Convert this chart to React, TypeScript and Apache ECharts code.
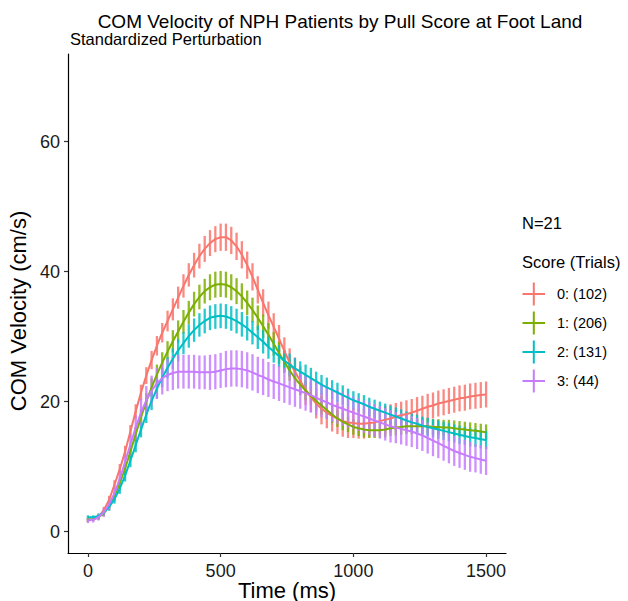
import React, { useEffect, useRef } from "react";
import * as echarts from "echarts";

const FONT = '"Liberation Sans", Arial, Helvetica, sans-serif';

const timeMs = [
  0, 20, 40, 60, 80, 100, 120, 140, 160, 180,
  200, 220, 240, 260, 280, 300, 320, 340, 360, 380,
  400, 420, 440, 460, 480, 500, 520, 540, 560, 580,
  600, 620, 640, 660, 680, 700, 720, 740, 760, 780,
  800, 820, 840, 860, 880, 900, 920, 940, 960, 980,
  1000, 1020, 1040, 1060, 1080, 1100, 1120, 1140, 1160, 1180,
  1200, 1220, 1240, 1260, 1280, 1300, 1320, 1340, 1360, 1380,
  1400, 1420, 1440, 1460, 1480, 1500,
];

const groupNames = ["0: (102)", "1: (206)", "2: (131)", "3: (44)"];
const groupColors = ["#F8766D", "#7CAE00", "#00BFC4", "#C77CFF"];

const score0Mean = [
  1.8, 1.9, 2.3, 3.3, 4.9, 7.2, 9.6, 12.3, 15.4, 18.5,
  21.4, 24.0, 26.4, 28.6, 30.6, 32.4, 34.2, 36.0, 37.8, 39.5,
  41.0, 42.4, 43.5, 44.4, 45.0, 45.3, 45.3, 44.8, 43.9, 42.6,
  41.0, 39.2, 37.2, 35.2, 33.3, 31.5, 29.7, 27.8, 26.0, 24.6,
  23.2, 21.8, 20.7, 19.7, 18.9, 18.3, 17.8, 17.4, 17.0, 16.8,
  16.7, 16.6, 16.6, 16.7, 16.8, 17.0, 17.2, 17.4, 17.7, 17.9,
  18.1, 18.3, 18.6, 18.9, 19.2, 19.4, 19.7, 19.9, 20.1, 20.3,
  20.5, 20.6, 20.8, 20.9, 21.0, 21.1,
];
const score0Err = [
  0.3, 0.3, 0.4, 0.5, 0.6, 0.7, 0.8, 0.9, 1.0, 1.1,
  1.2, 1.3, 1.4, 1.5, 1.5, 1.6, 1.7, 1.7, 1.8, 1.8,
  1.9, 1.9, 2.0, 2.0, 2.0, 2.1, 2.1, 2.1, 2.1, 2.1,
  2.1, 2.1, 2.1, 2.1, 2.1, 2.1, 2.1, 2.1, 2.2, 2.2,
  2.2, 2.3, 2.3, 2.3, 2.4, 2.4, 2.4, 2.4, 2.4, 2.4,
  2.3, 2.3, 2.3, 2.2, 2.2, 2.2, 2.2, 2.2, 2.1, 2.1,
  2.1, 2.1, 2.1, 2.0, 2.0, 2.0, 2.0, 2.0, 2.0, 2.0,
  2.0, 2.0, 2.0, 2.0, 2.0, 2.0,
];

const score1Mean = [
  1.8, 1.9, 2.2, 2.8, 3.9, 5.4, 7.4, 9.7, 12.3, 15.0,
  17.6, 20.0, 22.2, 24.2, 26.0, 27.7, 29.3, 30.8, 32.3, 33.7,
  35.0, 36.1, 37.0, 37.6, 38.0, 38.1, 38.0, 37.6, 37.0, 36.2,
  35.2, 34.1, 32.9, 31.6, 30.3, 28.9, 27.5, 26.1, 24.8, 23.6,
  22.6, 21.7, 20.9, 20.1, 19.4, 18.7, 18.0, 17.4, 16.9, 16.5,
  16.1, 15.9, 15.7, 15.6, 15.6, 15.6, 15.7, 15.9, 16.0, 16.1,
  16.2, 16.2, 16.2, 16.2, 16.2, 16.1, 16.1, 16.0, 16.0, 15.9,
  15.8, 15.7, 15.6, 15.5, 15.4, 15.3,
];
const score1Err = [
  0.3, 0.3, 0.4, 0.5, 0.6, 0.7, 0.8, 0.9, 1.0, 1.1,
  1.2, 1.3, 1.4, 1.5, 1.6, 1.6, 1.7, 1.7, 1.8, 1.8,
  1.9, 1.9, 1.9, 2.0, 2.0, 2.0, 2.0, 2.0, 2.0, 2.0,
  1.9, 1.9, 1.9, 1.8, 1.8, 1.8, 1.7, 1.7, 1.6, 1.6,
  1.5, 1.5, 1.4, 1.4, 1.4, 1.3, 1.3, 1.3, 1.3, 1.2,
  1.2, 1.2, 1.2, 1.2, 1.2, 1.2, 1.2, 1.2, 1.2, 1.2,
  1.2, 1.2, 1.2, 1.2, 1.2, 1.2, 1.2, 1.2, 1.2, 1.2,
  1.2, 1.2, 1.2, 1.2, 1.2, 1.2,
];

const score2Mean = [
  2.2, 2.2, 2.4, 2.9, 3.8, 5.0, 6.6, 8.6, 10.9, 13.3,
  15.7, 18.0, 20.1, 22.0, 23.7, 25.2, 26.6, 27.9, 29.0, 30.1,
  31.0, 31.8, 32.4, 32.9, 33.1, 33.2, 33.1, 32.8, 32.4, 31.9,
  31.3, 30.6, 29.9, 29.2, 28.4, 27.7, 27.0, 26.3, 25.7, 25.1,
  24.6, 24.1, 23.6, 23.1, 22.6, 22.2, 21.8, 21.4, 21.0, 20.6,
  20.2, 19.9, 19.6, 19.2, 18.9, 18.6, 18.3, 18.0, 17.7, 17.4,
  17.1, 16.8, 16.6, 16.3, 16.1, 15.9, 15.7, 15.5, 15.3, 15.1,
  14.9, 14.7, 14.5, 14.4, 14.2, 14.1,
];
const score2Err = [
  0.3, 0.3, 0.4, 0.5, 0.6, 0.7, 0.8, 0.9, 1.0, 1.1,
  1.2, 1.3, 1.4, 1.5, 1.5, 1.6, 1.6, 1.7, 1.7, 1.8,
  1.8, 1.8, 1.9, 1.9, 1.9, 1.9, 1.9, 1.9, 1.9, 1.9,
  1.9, 1.8, 1.8, 1.8, 1.8, 1.7, 1.7, 1.7, 1.7, 1.6,
  1.6, 1.6, 1.6, 1.5, 1.5, 1.5, 1.5, 1.5, 1.5, 1.4,
  1.4, 1.4, 1.4, 1.4, 1.4, 1.4, 1.4, 1.4, 1.4, 1.4,
  1.4, 1.4, 1.4, 1.4, 1.4, 1.4, 1.4, 1.4, 1.4, 1.4,
  1.4, 1.4, 1.4, 1.4, 1.4, 1.4,
];

const score3Mean = [
  1.7, 1.8, 2.2, 3.0, 4.2, 5.9, 8.1, 10.7, 13.4, 16.0,
  18.3, 20.2, 21.7, 22.8, 23.6, 24.1, 24.4, 24.6, 24.6, 24.6,
  24.6, 24.5, 24.5, 24.5, 24.6, 24.8, 25.0, 25.1, 25.1, 25.0,
  24.8, 24.5, 24.1, 23.8, 23.4, 23.1, 22.8, 22.5, 22.2, 21.9,
  21.6, 21.3, 21.0, 20.6, 20.2, 19.9, 19.5, 19.2, 18.9, 18.6,
  18.3, 18.0, 17.7, 17.4, 17.1, 16.8, 16.5, 16.2, 16.0, 15.8,
  15.6, 15.4, 15.1, 14.8, 14.4, 14.0, 13.6, 13.2, 12.8, 12.4,
  12.1, 11.8, 11.5, 11.3, 11.1, 10.9,
];
const score3Err = [
  0.4, 0.4, 0.5, 0.7, 0.9, 1.1, 1.3, 1.5, 1.7, 1.9,
  2.1, 2.2, 2.3, 2.4, 2.5, 2.5, 2.6, 2.6, 2.6, 2.6,
  2.6, 2.6, 2.6, 2.7, 2.7, 2.7, 2.8, 2.8, 2.8, 2.8,
  2.8, 2.8, 2.8, 2.8, 2.7, 2.7, 2.7, 2.7, 2.7, 2.7,
  2.7, 2.7, 2.7, 2.7, 2.6, 2.6, 2.6, 2.6, 2.6, 2.6,
  2.5, 2.5, 2.5, 2.5, 2.5, 2.5, 2.5, 2.5, 2.4, 2.4,
  2.4, 2.4, 2.4, 2.4, 2.4, 2.4, 2.3, 2.3, 2.3, 2.3,
  2.3, 2.3, 2.3, 2.2, 2.2, 2.2,
];

const groupMeans = [score0Mean, score1Mean, score2Mean, score3Mean];
const groupErrs = [score0Err, score1Err, score2Err, score3Err];

const xTicks = [0, 500, 1000, 1500];
const yTicks = [0, 20, 40, 60];

const titleText = "COM Velocity of NPH Patients by Pull Score at Foot Land";
const subtitleText = "Standardized Perturbation";
const xTitle = "Time (ms)";
const yTitle = "COM Velocity (cm/s)";
const legendNote = "N=21";
const legendTitle = "Score (Trials)";

export default function App() {
  const ref = useRef<HTMLDivElement>(null);

  useEffect(() => {
    if (!ref.current) return;
    const chart = echarts.init(ref.current, undefined, { renderer: "svg" });

    const errSeries = groupMeans.map((mean, g) => ({
      type: "custom",
      name: groupNames[g] + " err",
      z: 2,
      data: timeMs.map((t, i) => [t, mean[i] - groupErrs[g][i], mean[i] + groupErrs[g][i]]),
      encode: { x: 0, y: [1, 2] },
      renderItem: (params: any, api: any) => {
        const x = api.value(0);
        const p1 = api.coord([x, api.value(1)]);
        const p2 = api.coord([x, api.value(2)]);
        return {
          type: "line",
          shape: { x1: p1[0], y1: p1[1], x2: p2[0], y2: p2[1] },
          style: { stroke: groupColors[g], lineWidth: 2.3, opacity: 0.85 },
        };
      },
      silent: true,
    }));

    const lineSeries = groupMeans.map((mean, g) => ({
      type: "line",
      name: groupNames[g],
      z: 3,
      data: timeMs.map((t, i) => [t, mean[i]]),
      symbol: "none",
      showSymbol: false,
      lineStyle: { color: groupColors[g], width: 2 },
      itemStyle: { color: groupColors[g] },
      silent: true,
    }));

    const legendTop = 294;
    const legendStep = 29;
    const legendItems: any[] = [];
    groupNames.forEach((name, g) => {
      const cy = legendTop + g * legendStep;
      legendItems.push({
        type: "line",
        shape: { x1: 522.5, y1: cy, x2: 545, y2: cy },
        style: { stroke: groupColors[g], lineWidth: 2 },
      });
      legendItems.push({
        type: "line",
        shape: { x1: 533.8, y1: cy - 11.5, x2: 533.8, y2: cy + 11.5 },
        style: { stroke: groupColors[g], lineWidth: 2 },
      });
      legendItems.push({
        type: "text",
        x: 557,
        y: cy,
        style: {
          text: name,
          font: `14.5px ${FONT}`,
          fill: "#000",
          textAlign: "left",
          textVerticalAlign: "middle",
        },
      });
    });

    const option: any = {
      animation: false,
      backgroundColor: "#fff",
      grid: {
        left: 68,
        right: 122,
        top: 54,
        bottom: 48,
        containLabel: false,
        outerBoundsMode: "none",
      },
      xAxis: {
        type: "value",
        min: -75,
        max: 1575,
        axisLine: { show: true, onZero: false, lineStyle: { color: "#000", width: 1.2 } },
        axisTick: { show: true, length: 4, customValues: xTicks, lineStyle: { color: "#333", width: 1.2 } },
        axisLabel: {
          customValues: xTicks,
          fontSize: 18,
          color: "#1a1a1a",
          margin: 9,
          fontFamily: FONT,
          formatter: (v: number) => String(v),
        },
        splitLine: { show: false },
      },
      yAxis: {
        type: "value",
        min: -3.3,
        max: 73.5,
        axisLine: { show: true, onZero: false, lineStyle: { color: "#000", width: 1.2 } },
        axisTick: { show: true, length: 4, customValues: yTicks, lineStyle: { color: "#333", width: 1.2 } },
        axisLabel: {
          customValues: yTicks,
          fontSize: 18,
          color: "#1a1a1a",
          margin: 8,
          fontFamily: FONT,
          formatter: (v: number) => String(v),
        },
        splitLine: { show: false },
      },
      graphic: [
        {
          type: "text",
          x: 340,
          y: 21.7,
          style: {
            text: titleText,
            font: `19px ${FONT}`,
            fill: "#000",
            textAlign: "center",
            textVerticalAlign: "middle",
          },
        },
        {
          type: "text",
          x: 70,
          y: 39.3,
          style: {
            text: subtitleText,
            font: `16.5px ${FONT}`,
            fill: "#000",
            textAlign: "left",
            textVerticalAlign: "middle",
          },
        },
        {
          type: "text",
          x: 287,
          y: 590,
          style: {
            text: xTitle,
            font: `22px ${FONT}`,
            fill: "#000",
            textAlign: "center",
            textVerticalAlign: "middle",
          },
        },
        {
          type: "text",
          x: 18,
          y: 311,
          rotation: Math.PI / 2,
          style: {
            text: yTitle,
            font: `22px ${FONT}`,
            fill: "#000",
            textAlign: "center",
            textVerticalAlign: "middle",
          },
        },
        {
          type: "text",
          x: 522,
          y: 223.3,
          style: {
            text: legendNote,
            font: `16.5px ${FONT}`,
            fill: "#000",
            textAlign: "left",
            textVerticalAlign: "middle",
          },
        },
        {
          type: "text",
          x: 522,
          y: 262.3,
          style: {
            text: legendTitle,
            font: `16.5px ${FONT}`,
            fill: "#000",
            textAlign: "left",
            textVerticalAlign: "middle",
          },
        },
        ...legendItems,
      ],
      series: [...errSeries, ...lineSeries],
    };

    chart.setOption(option);
    return () => chart.dispose();
  }, []);

  return (
    <div
      ref={ref}
      style={{ position: "fixed", left: 0, top: 0, width: 628, height: 601, background: "#fff" }}
    />
  );
}
